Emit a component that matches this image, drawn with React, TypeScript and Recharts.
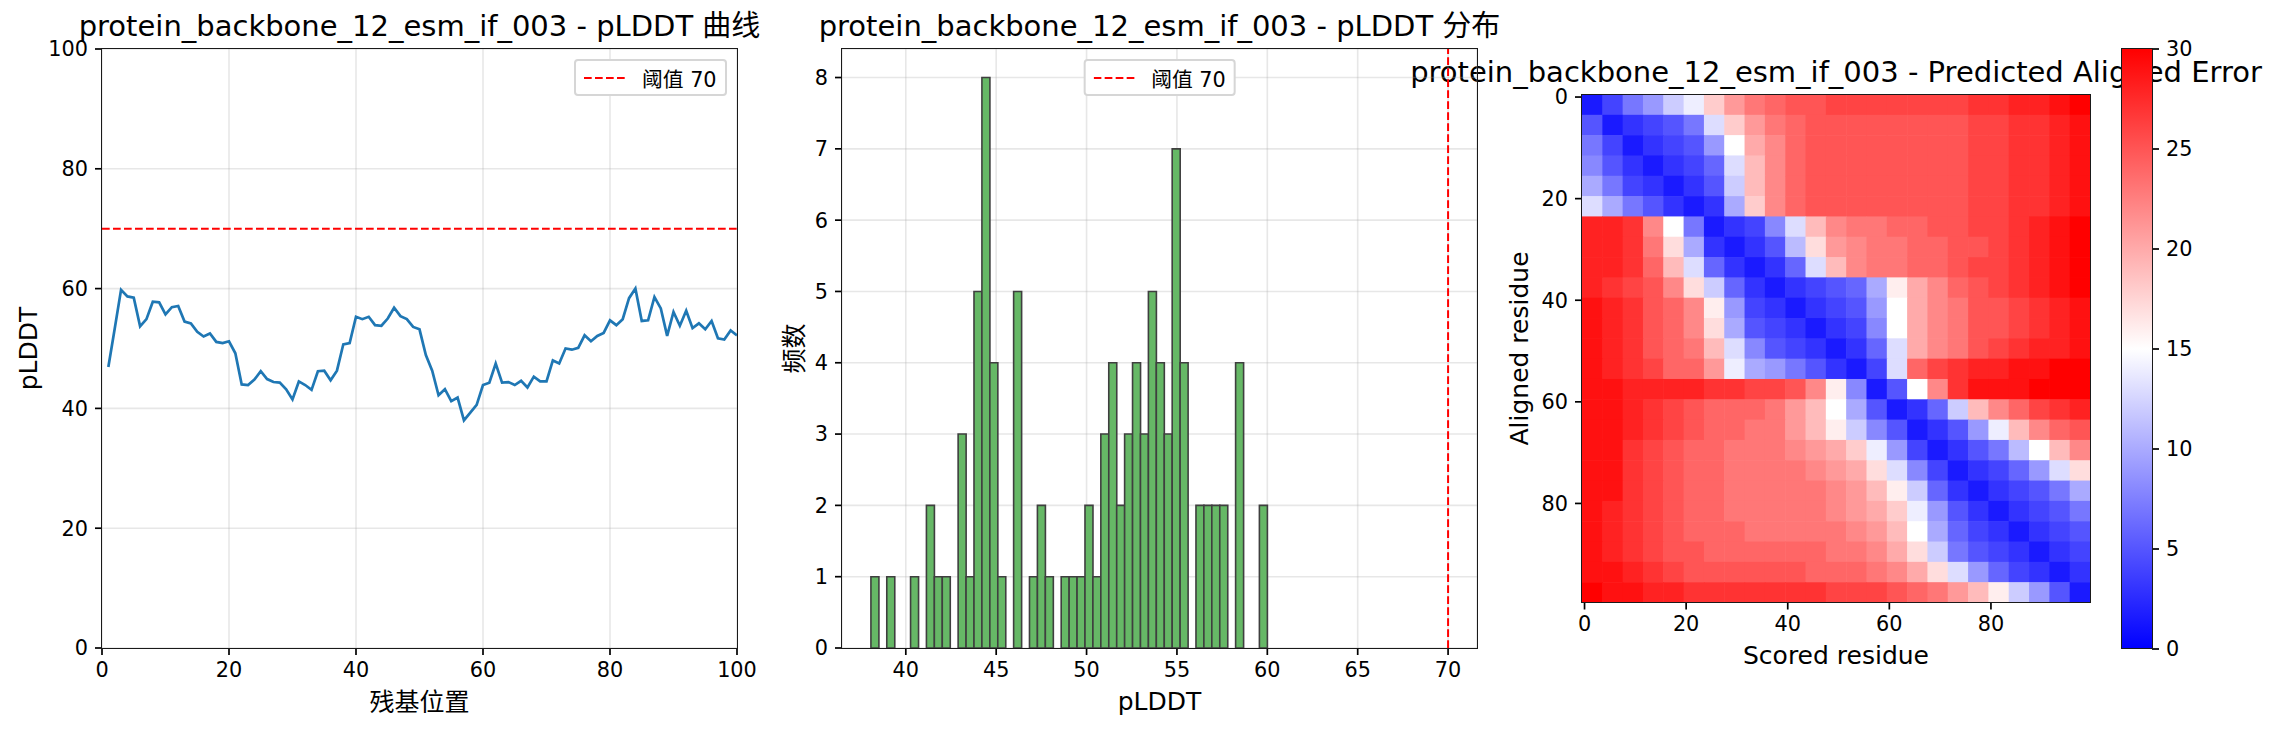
import React from 'react'
import {
  LineChart, Line, BarChart, Bar, ScatterChart, Scatter,
  XAxis, YAxis, CartesianGrid, ReferenceLine,
} from 'recharts'

const FONT = '"DejaVu Sans", "Noto Sans CJK SC", sans-serif'
const MODEL = 'protein_backbone_12_esm_if_003'

// per-residue pLDDT (residue 1..100)
const PLDDT = [
  46.9, 53.3, 59.8, 58.7, 58.5, 53.7, 54.9, 57.8, 57.7, 55.7,
  56.9, 57.1, 54.5, 54.2, 52.8, 52.0, 52.5, 51.1, 50.9, 51.2,
  49.2, 44.0, 43.9, 44.8, 46.2, 44.9, 44.4, 44.3, 43.2, 41.5,
  44.5, 43.9, 43.1, 46.2, 46.3, 44.7, 46.3, 50.7, 50.9, 55.3,
  54.9, 55.3, 53.9, 53.8, 55.0, 56.8, 55.4, 54.9, 53.6, 53.2,
  48.9, 46.3, 42.2, 43.2, 41.2, 41.8, 38.0, 39.3, 40.6, 43.9,
  44.3, 47.5, 44.3, 44.4, 43.9, 44.6, 43.5, 45.3, 44.5, 44.5,
  48.0, 47.5, 50.0, 49.8, 50.1, 52.2, 51.2, 52.1, 52.6, 54.7,
  53.9, 54.9, 58.4, 60.0, 54.6, 54.7, 58.6, 56.7, 52.1, 56.1,
  53.8, 56.3, 53.4, 54.2, 53.2, 54.6, 51.7, 51.5, 53.0, 52.2,
]
const LINE_TICKS = [0, 20, 40, 60, 80, 100]
const THRESHOLD = 70

// histogram: 50 bins starting at the minimum pLDDT
const HIST_START = 38.07
const HIST_BIN = 0.4386
const HIST_COUNTS = [
  1, 0, 1, 0, 0, 1, 0, 2, 1, 1,
  0, 3, 1, 5, 8, 4, 1, 0, 5, 0,
  1, 2, 1, 0, 1, 1, 1, 2, 1, 3,
  4, 2, 3, 4, 3, 5, 4, 3, 7, 4,
  0, 2, 2, 2, 2, 0, 4, 0, 0, 2,
]
const HIST_X_TICKS = [40, 45, 50, 55, 60, 65, 70]
const HIST_Y_TICKS = [0, 1, 2, 3, 4, 5, 6, 7, 8]

// PAE in 4x4 residue blocks (rows = aligned, cols = scored)
const PAE_BLOCK = 4
const PAE_RESIDUES = 100
const PAE = [
  [1.5, 4, 7, 9, 12, 14, 18, 21, 23, 24, 25, 25, 26, 26, 26, 26, 26, 26, 26, 27, 27, 28, 28, 29, 30],
  [5, 1.5, 3, 4, 5, 7, 13, 18, 21, 23, 24, 25, 25, 25, 25, 25, 25, 25, 25, 26, 26, 27, 27, 28, 29],
  [7, 4, 1.5, 3, 4, 5, 9, 15, 20, 22, 24, 25, 25, 25, 25, 25, 25, 25, 25, 26, 26, 27, 27, 28, 29],
  [8, 5, 3, 1.5, 3, 4, 6, 13, 19, 22, 24, 25, 25, 25, 25, 25, 25, 25, 25, 26, 26, 27, 27, 28, 29],
  [10, 7, 4, 3, 1.5, 3, 5, 12, 19, 22, 24, 25, 25, 25, 25, 25, 25, 25, 25, 26, 26, 27, 27, 28, 29],
  [13, 10, 7, 5, 3, 1.5, 3, 10, 18, 22, 24, 25, 25, 25, 25, 25, 25, 25, 25, 26, 26, 27, 27, 28, 29],
  [28, 28, 27, 22, 15, 7, 1.5, 3, 4, 8, 13, 19, 22, 23, 23, 24, 24, 25, 25, 26, 26, 27, 28, 29, 30],
  [28, 28, 27, 23, 17, 10, 3, 1.5, 3, 5, 11, 17, 21, 22, 23, 23, 24, 24, 25, 25, 26, 27, 28, 29, 30],
  [28, 28, 27, 24, 19, 13, 6, 3, 1.5, 3, 6, 13, 19, 22, 23, 23, 24, 24, 25, 26, 26, 27, 28, 29, 30],
  [28, 27, 26, 25, 22, 17, 12, 6, 3, 1.5, 3, 4, 5, 6, 10, 16, 20, 22, 24, 25, 26, 27, 28, 29, 30],
  [29, 28, 27, 25, 24, 22, 16, 9, 4, 3, 1.5, 3, 4, 5, 9, 15, 20, 22, 23, 25, 25, 26, 27, 28, 29],
  [29, 28, 27, 25, 24, 22, 17, 10, 5, 4, 3, 1.5, 3, 4, 8, 15, 20, 22, 23, 25, 25, 26, 27, 28, 29],
  [29, 28, 27, 25, 24, 23, 19, 13, 8, 5, 4, 3, 1.5, 3, 6, 13, 20, 22, 23, 25, 26, 27, 28, 28, 29],
  [29, 28, 27, 26, 24, 24, 21, 14, 10, 9, 7, 5, 3, 1.5, 4, 13, 24, 26, 27, 28, 28, 29, 29, 30, 30],
  [29, 29, 28, 28, 28, 28, 27, 27, 26, 26, 25, 22, 16, 8, 1.5, 5, 15, 22, 27, 29, 29, 29, 30, 30, 30],
  [29, 29, 28, 27, 26, 25, 24, 24, 24, 23, 21, 19, 15, 10, 5, 1.5, 3, 6, 12, 19, 22, 24, 26, 27, 28],
  [29, 29, 28, 27, 26, 25, 24, 24, 23, 23, 21, 19, 16, 12, 8, 5, 1.5, 3, 5, 9, 14, 19, 22, 24, 25],
  [29, 29, 27, 26, 25, 24, 24, 23, 23, 23, 22, 21, 20, 18, 14, 9, 4, 1.5, 3, 5, 7, 11, 15, 19, 22],
  [29, 29, 27, 26, 25, 24, 24, 23, 23, 23, 23, 22, 21, 20, 17, 13, 8, 4, 1.5, 3, 4, 6, 9, 13, 17],
  [29, 29, 27, 26, 25, 24, 24, 23, 23, 23, 23, 23, 22, 21, 19, 16, 12, 6, 3, 1.5, 3, 4, 5, 7, 10],
  [29, 28, 27, 26, 25, 24, 24, 23, 23, 23, 23, 23, 22, 21, 20, 18, 14, 9, 5, 3, 1.5, 3, 4, 5, 7],
  [29, 28, 27, 26, 25, 24, 24, 24, 23, 23, 23, 23, 23, 22, 21, 19, 15, 10, 6, 4, 3, 1.5, 3, 4, 5],
  [29, 28, 27, 26, 25, 25, 24, 24, 24, 24, 24, 24, 23, 23, 22, 20, 17, 12, 7, 5, 4, 3, 1.5, 3, 4],
  [29, 29, 28, 27, 26, 25, 25, 25, 25, 25, 25, 24, 24, 24, 23, 22, 20, 17, 13, 9, 6, 4, 3, 1.5, 3],
  [30, 29, 29, 28, 28, 27, 27, 27, 27, 27, 27, 27, 26, 26, 26, 25, 24, 23, 21, 19, 16, 12, 9, 5, 1.5],
]
const PAE_TICKS = [0, 20, 40, 60, 80]
const PAE_MAX = 30
const CBAR_TICKS = [0, 5, 10, 15, 20, 25, 30]

const lineData = PLDDT.map((v, i) => ({ residue: i + 1, plddt: v }))
const histData = HIST_COUNTS.map((n, i) => ({ mid: HIST_START + (i + 0.5) * HIST_BIN, count: n }))
const paeData = PAE.flatMap((row, r) =>
  row.map((v, c) => ({
    scored: c * PAE_BLOCK + (PAE_BLOCK - 1) / 2,
    aligned: r * PAE_BLOCK + (PAE_BLOCK - 1) / 2,
    pae: v,
  })),
)

// matplotlib "bwr"
function bwr(v: number) {
  const t = Math.max(0, Math.min(1, v / PAE_MAX))
  if (t < 0.5) {
    const k = Math.round(510 * t)
    return `rgb(${k},${k},255)`
  }
  const k = Math.round(255 * (2 - 2 * t))
  return `rgb(255,${k},${k})`
}

const TICK = { fill: '#000', fontSize: 20.8, fontFamily: FONT }
const TICK_LINE = { stroke: '#000', strokeWidth: 1.7 }

// plot boxes in page pixels
const P1 = { left: 102, top: 49, width: 635, height: 599 }
const P2 = { left: 842, top: 49, width: 635, height: 599 }
const P3 = { left: 1582, top: 94.5, width: 508, height: 508 }
const CB = { left: 2122, top: 49, width: 30, height: 599 }

const cellPx = (PAE_BLOCK * P3.width) / PAE_RESIDUES

function PaeCell(props: any) {
  const { cx, cy, payload } = props
  if (cx == null || cy == null) return null
  return (
    <rect
      x={cx - cellPx / 2}
      y={cy - cellPx / 2}
      width={cellPx + 0.6}
      height={cellPx + 0.6}
      fill={bwr(payload.pae)}
    />
  )
}

function Frame({ box }: { box: { left: number; top: number; width: number; height: number } }) {
  return (
    <div
      style={{
        position: 'absolute',
        left: box.left - 0.85,
        top: box.top - 0.85,
        width: box.width + 1.7,
        height: box.height + 1.7,
        border: '1.7px solid #1a1a1a',
        boxSizing: 'border-box',
        pointerEvents: 'none',
      }}
    />
  )
}

function ThresholdLegend({ style }: { style: React.CSSProperties }) {
  return (
    <div
      style={{
        position: 'absolute',
        top: 59.4,
        height: 37,
        boxSizing: 'border-box',
        padding: '0 8px',
        display: 'flex',
        alignItems: 'center',
        background: '#fff',
        border: '2px solid #d6d6d6',
        borderRadius: 4,
        fontFamily: FONT,
        fontSize: 20.8,
        color: '#000',
        whiteSpace: 'nowrap',
        ...style,
      }}
    >
      <svg width={42} height={10} style={{ marginRight: 16 }}>
        <line x1={0} y1={5} x2={42} y2={5} stroke="#ff0000" strokeWidth={2} strokeDasharray="7.7 3.3" />
      </svg>
      <span>阈值 70</span>
    </div>
  )
}

export default function App() {
  return (
    <div style={{ position: 'absolute', left: 0, top: 0, width: 2279, height: 730, background: '#fff', overflow: 'hidden', fontFamily: FONT }}>
      {/* titles and axis labels */}
      <svg width={2279} height={730} style={{ position: 'absolute', left: 0, top: 0 }} fontFamily={FONT} fill="#000">
        <text x={P1.left + P1.width / 2} y={36} fontSize={29} textAnchor="middle">{`${MODEL} - pLDDT 曲线`}</text>
        <text x={P2.left + P2.width / 2} y={36} fontSize={29} textAnchor="middle">{`${MODEL} - pLDDT 分布`}</text>
        <text x={P3.left + P3.width / 2} y={82} fontSize={29} textAnchor="middle">{`${MODEL} - Predicted Aligned Error`}</text>

        <text x={P1.left + P1.width / 2} y={711} fontSize={25} textAnchor="middle">残基位置</text>
        <text x={P2.left + P2.width / 2} y={710} fontSize={25} textAnchor="middle">pLDDT</text>
        <text x={P3.left + P3.width / 2} y={664} fontSize={25} textAnchor="middle">Scored residue</text>

        <text transform={`translate(37,${P1.top + P1.height / 2}) rotate(-90)`} fontSize={25} textAnchor="middle">pLDDT</text>
        <text transform={`translate(803,${P2.top + P2.height / 2}) rotate(-90)`} fontSize={25} textAnchor="middle">频数</text>
        <text transform={`translate(1528,${P3.top + P3.height / 2}) rotate(-90)`} fontSize={25} textAnchor="middle">Aligned residue</text>
      </svg>

      {/* pLDDT per residue */}
      <div style={{ position: 'absolute', left: 0, top: 0 }}>
        <LineChart width={760} height={730} data={lineData} margin={{ top: 49, right: 23, bottom: 0, left: 0 }}>
          <CartesianGrid stroke="#b0b0b0" strokeOpacity={0.3} strokeWidth={1.6} />
          <XAxis dataKey="residue" type="number" domain={[0, 100]} ticks={LINE_TICKS} interval={0} height={82}
            axisLine={false} tickLine={TICK_LINE} tickSize={7} tickMargin={7} tick={TICK} allowDataOverflow />
          <YAxis type="number" domain={[0, 100]} ticks={LINE_TICKS} interval={0} width={102}
            axisLine={false} tickLine={TICK_LINE} tickSize={7} tickMargin={7} tick={TICK} allowDataOverflow />
          <ReferenceLine y={THRESHOLD} stroke="#ff0000" strokeWidth={2} strokeDasharray="7.7 3.3" />
          <Line type="linear" dataKey="plddt" stroke="#1f77b4" strokeWidth={2.7} dot={false} isAnimationActive={false} />
        </LineChart>
      </div>
      <Frame box={P1} />
      <ThresholdLegend style={{ right: 2279 - 726.6 }} />

      {/* pLDDT histogram */}
      <div style={{ position: 'absolute', left: 760, top: 0 }}>
        <BarChart width={760} height={730} data={histData} margin={{ top: 49, right: 43, bottom: 0, left: 0 }}
          barCategoryGap={0} barGap={0}>
          <CartesianGrid stroke="#b0b0b0" strokeOpacity={0.3} strokeWidth={1.6} />
          <XAxis dataKey="mid" type="number" domain={[36.47, 71.6]} ticks={HIST_X_TICKS} interval={0} height={82}
            axisLine={false} tickLine={TICK_LINE} tickSize={7} tickMargin={7} tick={TICK} allowDataOverflow />
          <YAxis type="number" domain={[0, 8.4]} ticks={HIST_Y_TICKS} interval={0} width={82}
            axisLine={false} tickLine={TICK_LINE} tickSize={7} tickMargin={7} tick={TICK} allowDataOverflow />
          <Bar dataKey="count" fill="#66b866" stroke="#3f3f3f" strokeWidth={1.6} isAnimationActive={false} />
          <ReferenceLine x={THRESHOLD} stroke="#ff0000" strokeWidth={2} strokeDasharray="7.7 3.3" />
        </BarChart>
      </div>
      <Frame box={P2} />
      <ThresholdLegend style={{ left: P2.left + P2.width / 2, transform: 'translateX(-50%)' }} />

      {/* PAE heatmap */}
      <div style={{ position: 'absolute', left: 1520, top: 0 }}>
        <ScatterChart width={600} height={730} margin={{ top: 94.5, right: 30, bottom: 0, left: 0 }}>
          <XAxis dataKey="scored" type="number" domain={[-0.5, 99.5]} ticks={PAE_TICKS} interval={0} height={127.5}
            axisLine={false} tickLine={TICK_LINE} tickSize={7} tickMargin={7} tick={TICK} allowDataOverflow />
          <YAxis dataKey="aligned" type="number" domain={[-0.5, 99.5]} ticks={PAE_TICKS} interval={0} width={62} reversed
            axisLine={false} tickLine={TICK_LINE} tickSize={7} tickMargin={7} tick={TICK} allowDataOverflow />
          <Scatter data={paeData} shape={PaeCell} isAnimationActive={false} />
        </ScatterChart>
      </div>
      <Frame box={P3} />

      {/* colour bar */}
      <div style={{ position: 'absolute', left: 2100, top: 0 }}>
        <BarChart width={179} height={730} data={[{ name: 'PAE', value: PAE_MAX }]}
          margin={{ top: 49, right: 0, bottom: 81, left: 22 }} barCategoryGap={0}>
          <defs>
            <linearGradient id="bwrGrad" x1="0" y1="0" x2="0" y2="1">
              <stop offset="0%" stopColor="#ff0000" />
              <stop offset="50%" stopColor="#ffffff" />
              <stop offset="100%" stopColor="#0000ff" />
            </linearGradient>
          </defs>
          <XAxis dataKey="name" hide />
          <YAxis orientation="right" type="number" domain={[0, PAE_MAX]} ticks={CBAR_TICKS} interval={0} width={127}
            axisLine={false} tickLine={TICK_LINE} tickSize={7} tickMargin={7} tick={TICK} allowDataOverflow />
          <Bar dataKey="value" fill="url(#bwrGrad)" isAnimationActive={false} />
        </BarChart>
      </div>
      <Frame box={CB} />
    </div>
  )
}
